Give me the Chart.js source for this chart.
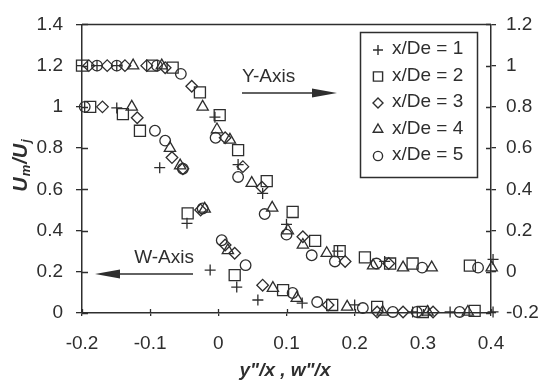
<!DOCTYPE html>
<html>
<head>
<meta charset="utf-8">
<script src="https://cdn.jsdelivr.net/npm/chart.js@4.4.1/dist/chart.umd.min.js"></script>
<style>
  html, body { margin: 0; padding: 0; background: #fff; }
  #wrap { width: 545px; height: 385px; }
</style>
</head>
<body>
<div id="wrap"><canvas id="chart"></canvas></div>
<script>
const seriesNames = ["x/De = 1", "x/De = 2", "x/De = 3", "x/De = 4", "x/De = 5"]
const xTickLabels = ["-0.2", "-0.1", "0", "0.1", "0.2", "0.3", "0.4"]
const leftTickLabels = ["0", "0.2", "0.4", "0.6", "0.8", "1", "1.2", "1.4"]
const rightTickLabels = ["-0.2", "0", "0.2", "0.4", "0.6", "0.8", "1", "1.2"]

// Y-axis traverse, y"/x vs Um/Uj (right scale)
const yPlusX = [-0.178, -0.149, -0.005, 0.029, 0.065, 0.1, 0.175, 0.244, 0.403]
const yPlusU = [1.0, 1.0, 0.75, 0.52, 0.38, 0.23, 0.10, 0.05, 0.06]
const ySquareX = [-0.2, -0.097, -0.067, -0.027, 0.002, 0.029, 0.071, 0.109, 0.142, 0.178, 0.215, 0.252, 0.285, 0.369]
const ySquareU = [1.0, 1.0, 0.99, 0.87, 0.76, 0.59, 0.44, 0.29, 0.15, 0.10, 0.07, 0.04, 0.04, 0.03]
const yDiamondX = [-0.19, -0.163, -0.137, -0.105, -0.078, -0.039, 0.01, 0.036, 0.064, 0.124, 0.186, 0.25]
const yDiamondU = [1.0, 1.0, 1.0, 1.0, 0.99, 0.90, 0.65, 0.51, 0.41, 0.17, 0.05, 0.04]
const yTriangleX = [-0.125, -0.083, -0.023, -0.002, 0.017, 0.049, 0.079, 0.102, 0.124, 0.159, 0.227, 0.271, 0.313, 0.401]
const yTriangleU = [1.0, 1.0, 0.80, 0.69, 0.64, 0.43, 0.31, 0.20, 0.13, 0.09, 0.03, 0.02, 0.02, 0.02]
const yCircleX = [-0.178, -0.149, -0.09, -0.055, -0.004, 0.029, 0.068, 0.1, 0.137, 0.171, 0.232, 0.299, 0.381]
const yCircleU = [1.0, 1.0, 1.0, 0.96, 0.65, 0.46, 0.28, 0.18, 0.08, 0.05, 0.04, 0.02, 0.02]

// W-axis traverse, w"/x vs Um/Uj (left scale)
const wPlusX = [-0.149, -0.086, -0.046, -0.012, 0.027, 0.058, 0.123, 0.2, 0.285, 0.34, 0.403]
const wPlusU = [0.995, 0.705, 0.435, 0.208, 0.126, 0.063, 0.048, 0.039, 0.005, 0.005, 0.005]
const wSquareX = [-0.188, -0.14, -0.115, -0.045, 0.024, 0.095, 0.167, 0.233, 0.3, 0.376]
const wSquareU = [1.0, 0.965, 0.884, 0.483, 0.184, 0.111, 0.039, 0.03, 0.005, 0.01]
const wDiamondX = [-0.17, -0.119, -0.068, -0.052, -0.026, 0.01, 0.024, 0.065, 0.161, 0.233, 0.271, 0.315]
const wDiamondU = [1.0, 0.947, 0.754, 0.70, 0.50, 0.33, 0.29, 0.135, 0.039, 0.005, 0.005, 0.005]
const wTriangleX = [-0.127, -0.071, -0.056, -0.02, 0.014, 0.08, 0.115, 0.189, 0.241, 0.307, 0.366]
const wTriangleU = [1.0, 0.80, 0.715, 0.505, 0.304, 0.121, 0.072, 0.03, 0.005, 0.005, 0.005]
const wCircleX = [-0.196, -0.093, -0.078, -0.052, -0.023, 0.005, 0.04, 0.109, 0.145, 0.212, 0.256, 0.291, 0.354]
const wCircleU = [1.0, 0.884, 0.836, 0.70, 0.507, 0.353, 0.232, 0.097, 0.053, 0.024, 0.005, 0.005, 0.005]

const ink = "#2e2e2e"
const fontFamily = "'Liberation Sans', Arial, Helvetica, sans-serif"

// marker per x/De station: style and radius
const markers = [
  { style: "cross", radius: 5.5, key: 5 },
  { style: "rect", radius: 7.8, key: 6.5 },
  { style: "rectRot", radius: 5.8, key: 5 },
  { style: "triangle", radius: 6.5, key: 5.5 },
  { style: "circle", radius: 5.3, key: 4.6 }
]

const zip = (xs, ys) => xs.map((x, i) => ({ x: x, y: ys[i] }))

function makeSet(i, xs, ys, axis) {
  return {
    label: seriesNames[i],
    data: zip(xs, ys),
    yAxisID: axis,
    showLine: false,
    clip: false,
    borderColor: ink,
    backgroundColor: "rgba(0,0,0,0)",
    pointStyle: markers[i].style,
    pointRadius: markers[i].radius,
    pointHoverRadius: markers[i].radius,
    pointBorderWidth: 1.3,
    pointBorderColor: ink,
    pointBackgroundColor: "rgba(0,0,0,0)"
  }
}

const datasets = [
  makeSet(0, yPlusX, yPlusU, "yR"),
  makeSet(1, ySquareX, ySquareU, "yR"),
  makeSet(2, yDiamondX, yDiamondU, "yR"),
  makeSet(3, yTriangleX, yTriangleU, "yR"),
  makeSet(4, yCircleX, yCircleU, "yR"),
  makeSet(0, wPlusX, wPlusU, "yL"),
  makeSet(1, wSquareX, wSquareU, "yL"),
  makeSet(2, wDiamondX, wDiamondU, "yL"),
  makeSet(3, wTriangleX, wTriangleU, "yL"),
  makeSet(4, wCircleX, wCircleU, "yL")
]

function arrow(ctx, x0, x1, y, tipX, baseX) {
  ctx.beginPath()
  ctx.moveTo(x0, y)
  ctx.lineTo(x1, y)
  ctx.stroke()
  ctx.beginPath()
  ctx.moveTo(tipX, y)
  ctx.lineTo(baseX, y - 4.5)
  ctx.lineTo(baseX, y + 4.5)
  ctx.closePath()
  ctx.fill()
}

// frame top, inner tick marks, legend box, arrows and axis titles
const decorations = {
  id: "decorations",
  afterDraw(chart) {
    const ctx = chart.ctx
    const area = chart.chartArea
    const sx = chart.scales.x, sl = chart.scales.yL, sr = chart.scales.yR
    ctx.save()
    ctx.strokeStyle = ink
    ctx.fillStyle = ink
    ctx.lineWidth = 1.5

    ctx.beginPath()
    ctx.moveTo(area.left, area.top)
    ctx.lineTo(area.right, area.top)
    ctx.stroke()

    ctx.lineWidth = 1.3
    ctx.beginPath()
    sx.ticks.forEach(t => {
      const px = Math.round(sx.getPixelForValue(t.value)) + 0.5
      ctx.moveTo(px, area.bottom)
      ctx.lineTo(px, area.bottom - 4)
    })
    sl.ticks.forEach(t => {
      const py = Math.round(sl.getPixelForValue(t.value)) + 0.5
      ctx.moveTo(area.left, py)
      ctx.lineTo(area.left + 6, py)
    })
    sr.ticks.forEach(t => {
      const py = Math.round(sr.getPixelForValue(t.value)) + 0.5
      ctx.moveTo(area.right, py)
      ctx.lineTo(area.right - 5, py)
    })
    ctx.stroke()

    // legend
    ctx.lineWidth = 1.5
    ctx.strokeRect(360.5, 32.5, 117, 145)
    ctx.font = "19px " + fontFamily
    ctx.textBaseline = "middle"
    ctx.textAlign = "left"
    seriesNames.forEach((name, i) => {
      const y = 49 + i * 26.5
      ctx.save()
      ctx.lineWidth = 1.4
      ctx.fillStyle = "rgba(0,0,0,0)"
      Chart.helpers.drawPoint(ctx, {
        pointStyle: markers[i].style,
        radius: markers[i].key,
        borderWidth: 1.4,
        rotation: 0
      }, 378, y + 1)
      ctx.restore()
      ctx.fillText(name, 392, y)
    })

    // direction labels
    ctx.lineWidth = 1.6
    ctx.fillText("Y-Axis", 242, 77)
    arrow(ctx, 242, 315, 93, 337, 312)
    ctx.textAlign = "right"
    ctx.fillText("W-Axis", 194, 258)
    arrow(ctx, 118, 193, 274, 95, 120)

    // x title
    ctx.font = "italic bold 19px " + fontFamily
    ctx.textAlign = "center"
    ctx.fillText('y"/x , w"/x', 285, 371)

    // y title with subscripts
    ctx.translate(21, 165)
    ctx.rotate(-Math.PI / 2)
    const big = "italic bold 20px " + fontFamily
    const small = "italic bold 13px " + fontFamily
    const parts = [["U", big, 0], ["m", small, 5], ["/U", big, 0], ["j", small, 5]]
    let total = 0
    parts.forEach(p => { ctx.font = p[1]; total += ctx.measureText(p[0]).width + 1 })
    let cx = -total / 2
    ctx.textAlign = "left"
    parts.forEach(p => {
      ctx.font = p[1]
      ctx.fillText(p[0], cx, p[2])
      cx += ctx.measureText(p[0]).width + 1
    })
    ctx.restore()
  }
}

const tickFont = { family: fontFamily, size: 19 }

const config = {
  type: "scatter",
  data: { datasets },
  options: {
    responsive: false,
    animation: false,
    layout: { padding: { top: 23 } },
    plugins: {
      legend: { display: false },
      tooltip: { enabled: false }
    },
    scales: {
      x: {
        type: "linear",
        min: -0.2,
        max: 0.4,
        afterFit: s => { s.height = 72 },
        ticks: {
          stepSize: 0.1,
          color: ink,
          font: tickFont,
          padding: 16,
          maxRotation: 0,
          callback: (v, i) => xTickLabels[i]
        },
        grid: { drawOnChartArea: false, tickLength: 3, color: ink, lineWidth: 1.3 },
        border: { display: true, color: ink, width: 1.5 }
      },
      yL: {
        type: "linear",
        position: "left",
        min: 0,
        max: 1.4,
        afterFit: s => { s.width = 82 },
        ticks: {
          stepSize: 0.2,
          color: ink,
          font: tickFont,
          padding: 13,
          callback: (v, i) => leftTickLabels[i]
        },
        grid: { drawOnChartArea: false, tickLength: 6, color: ink, lineWidth: 1.3 },
        border: { display: true, color: ink, width: 1.5 }
      },
      yR: {
        type: "linear",
        position: "right",
        min: -0.2,
        max: 1.2,
        afterFit: s => { s.width = 54 },
        ticks: {
          stepSize: 0.2,
          color: ink,
          font: tickFont,
          padding: 10,
          callback: (v, i) => rightTickLabels[i]
        },
        grid: { drawOnChartArea: false, tickLength: 5, color: ink, lineWidth: 1.3 },
        border: { display: true, color: ink, width: 1.5 }
      }
    }
  },
  plugins: [decorations]
}

const canvas = document.getElementById("chart")
canvas.width = 545
canvas.height = 385
const myChart = new Chart(canvas.getContext("2d"), config)
</script>
</body>
</html>
